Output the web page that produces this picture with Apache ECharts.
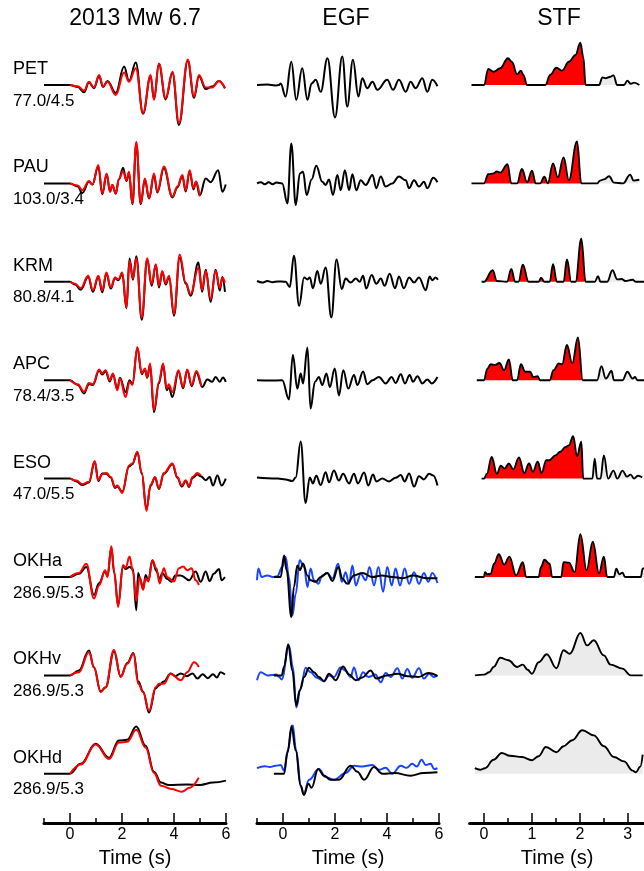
<!DOCTYPE html>
<html><head><meta charset="utf-8">
<script src="https://cdn.jsdelivr.net/npm/echarts@6/dist/echarts.min.js"></script>
<style>html,body{margin:0;padding:0;background:#fff}#c{width:644px;height:871px}</style>
</head><body><div id="c"></div><script>
// ---------- labels ----------
const stations = ['PET','PAU','KRM','APC','ESO','OKHa','OKHv','OKHd'];
const distAz = ['77.0/4.5','103.0/3.4','80.8/4.1','78.4/3.5','47.0/5.5','286.9/5.3','286.9/5.3','286.9/5.3'];
const colTitles = ['2013 Mw 6.7','EGF','STF'];
const ticks12 = [0,2,4,6], minor12 = [-1,1,3,5];
const ticks3 = [0,1,2,3], minor3 = [0.5,1.5,2.5];
const stfRedEnd = [2.12, 2.03, 2.12, 2.06, 2.07, 2.57, null, null];

// ---------- column 1: observed (black) and synthetic (red) ----------
const PET_obs = [[-1,0],[0,0],[0.3,-0.05],[0.54,-0.18],[0.73,0.06],[0.92,-0.08],[1.12,0.22],[1.27,-0.05],[1.44,0.1],[1.76,-0.2],[2.08,0.46],[2.27,0.1],[2.53,0.56],[2.81,-0.72],[3.1,0.22],[3.23,-0.35],[3.42,0.52],[3.68,-0.36],[3.94,0.3],[4.19,-1.0],[4.53,0.6],[4.77,-0.32],[4.96,0.22],[5.22,-0.1],[5.47,-0.04],[5.73,0.1],[5.96,-0.08]];
const PET_syn = [[0,0],[0.3,-0.03],[0.54,-0.14],[0.73,0.08],[0.92,-0.06],[1.12,0.25],[1.27,-0.03],[1.44,0.08],[1.76,-0.25],[2.08,0.31],[2.27,0.08],[2.53,0.42],[2.81,-0.7],[3.1,0.25],[3.23,-0.37],[3.42,0.54],[3.68,-0.33],[3.94,0.33],[4.19,-0.95],[4.53,0.64],[4.77,-0.29],[4.96,0.25],[5.22,-0.06],[5.47,-0.06],[5.73,0.1],[5.96,-0.08]];
const PAU_obs = [[-1,0],[0,0],[0.3,-0.08],[0.47,-0.24],[0.73,0.04],[0.86,-0.03],[1.09,0.42],[1.24,-0.27],[1.41,0.22],[1.54,-0.2],[1.63,-0.04],[1.76,-0.26],[1.88,0.1],[2.04,0.39],[2.17,0.06],[2.27,0.25],[2.4,-0.52],[2.55,0.98],[2.72,-0.52],[2.88,0.1],[3.04,-0.38],[3.23,0.2],[3.36,-0.23],[3.61,0.38],[3.94,-0.35],[4.13,-0.1],[4.32,0.18],[4.45,-0.2],[4.6,0.3],[4.75,-0.15],[4.85,0.04],[4.99,-0.3],[5.22,0.12],[5.41,0.03],[5.7,0.33],[5.86,-0.21],[5.99,-0.03]];
const PAU_syn = [[0,0],[0.3,-0.05],[0.47,-0.17],[0.73,0.06],[0.86,-0.03],[1.09,0.46],[1.24,-0.25],[1.41,0.25],[1.54,-0.21],[1.63,-0.04],[1.76,-0.25],[1.88,0.11],[2.04,0.3],[2.17,0.08],[2.27,0.29],[2.4,-0.5],[2.55,1.04],[2.72,-0.5],[2.88,0.12],[3.04,-0.37],[3.23,0.25],[3.36,-0.21],[3.61,0.42],[3.94,-0.33],[4.13,-0.08],[4.32,0.21],[4.45,-0.17],[4.6,0.33],[4.75,-0.12],[4.85,0.05],[4.99,-0.32]];
const KRM_obs = [[-1,0],[0,0],[0.2,-0.07],[0.41,-0.2],[0.7,0.12],[0.88,-0.25],[1.09,0.12],[1.24,-0.26],[1.4,0.2],[1.57,-0.17],[1.73,0.09],[1.86,0.04],[2.01,0.2],[2.17,-0.66],[2.29,0.58],[2.42,0.05],[2.55,0.64],[2.76,-0.95],[2.97,0.56],[3.14,-0.1],[3.3,0.42],[3.42,-0.14],[3.55,0.24],[3.68,-0.07],[3.81,0.12],[4.0,-0.85],[4.22,0.6],[4.45,-0.05],[4.64,-0.35],[4.94,0.48],[5.08,-0.25],[5.22,0.3],[5.41,-0.5],[5.6,0.3],[5.76,-0.22],[5.86,0.12],[5.96,-0.25]];
const KRM_syn = [[0,0],[0.2,-0.05],[0.41,-0.16],[0.7,0.15],[0.88,-0.21],[1.09,0.15],[1.24,-0.22],[1.4,0.23],[1.57,-0.14],[1.73,0.11],[1.86,0.06],[2.01,0.23],[2.17,-0.64],[2.29,0.52],[2.42,0.08],[2.55,0.59],[2.76,-0.89],[2.97,0.59],[3.14,-0.06],[3.3,0.44],[3.42,-0.1],[3.55,0.27],[3.68,-0.04],[3.81,0.15],[4.0,-0.81],[4.22,0.68],[4.45,-0.02],[4.64,-0.31],[4.94,0.35],[5.08,-0.2],[5.22,0.27],[5.41,-0.43],[5.6,0.27],[5.76,-0.15],[5.86,0.1],[5.96,-0.02]];
const APC_obs = [[-1,0],[0,0],[0.3,-0.12],[0.54,-0.33],[0.73,-0.1],[0.88,-0.12],[1.12,0.24],[1.24,0.14],[1.37,0.22],[1.53,-0.03],[1.65,0.14],[1.82,-0.22],[1.92,0.06],[2.14,-0.3],[2.29,0.0],[2.4,-0.1],[2.59,0.8],[2.76,0.15],[2.88,0.27],[2.97,0.06],[3.08,0.38],[3.23,-0.8],[3.42,-0.08],[3.58,0.38],[3.72,-0.25],[3.8,-0.18],[3.94,-0.42],[4.17,0.22],[4.35,-0.2],[4.51,0.25],[4.68,-0.15],[4.86,0.2],[5.09,-0.17],[5.28,0.02],[5.47,-0.04],[5.6,0.08],[5.76,-0.04],[5.88,0.07],[5.99,-0.04]];
const APC_syn = [[0,0],[0.3,-0.1],[0.54,-0.29],[0.73,-0.07],[0.88,-0.1],[1.12,0.27],[1.24,0.17],[1.37,0.25],[1.53,0],[1.65,0.17],[1.82,-0.25],[1.92,0.04],[2.14,-0.42],[2.29,-0.04],[2.4,-0.12],[2.59,0.83],[2.76,0.17],[2.88,0.29],[2.97,0.08],[3.08,0.42],[3.23,-0.75],[3.42,-0.04],[3.58,0.42],[3.72,-0.2],[3.8,-0.1],[3.94,-0.3],[4.17,0.25],[4.35,-0.17],[4.51,0.27],[4.68,-0.12],[4.86,0.23],[5.05,-0.15]];
const ESO_obs = [[-1,0],[0,0],[0.25,-0.07],[0.47,-0.16],[0.73,-0.1],[0.95,0.42],[1.09,-0.06],[1.24,0.13],[1.4,0.12],[1.57,0.02],[1.73,-0.23],[1.82,-0.2],[2.01,-0.33],[2.27,0.3],[2.4,0.36],[2.59,0.66],[2.76,0.12],[2.94,-0.75],[3.1,-0.18],[3.27,0.02],[3.42,-0.26],[3.61,0.12],[3.94,0.36],[4.13,0.02],[4.3,-0.2],[4.45,-0.06],[4.58,-0.21],[4.71,0.02],[4.9,0.1],[5.03,0.06],[5.22,-0.04],[5.37,0.04],[5.5,-0.17],[5.67,0.08],[5.83,-0.17],[5.99,0]];
const ESO_syn = [[0,0],[0.25,-0.05],[0.47,-0.14],[0.73,-0.08],[0.95,0.44],[1.09,-0.04],[1.24,0.11],[1.4,0.14],[1.57,0.04],[1.73,-0.21],[1.82,-0.17],[2.01,-0.36],[2.27,0.33],[2.4,0.38],[2.59,0.67],[2.76,0.15],[2.94,-0.81],[3.1,-0.15],[3.27,0.04],[3.42,-0.24],[3.61,0.14],[3.94,0.38],[4.13,0.04],[4.3,-0.17],[4.45,-0.04],[4.58,-0.19],[4.71,0.04],[4.9,0.14],[5.03,0.08]];
const OKHa_obs = [[-1,0],[0,0],[0.34,0.08],[0.63,0.25],[0.92,-0.45],[1.12,-0.15],[1.35,0.14],[1.44,0.02],[1.59,0.74],[1.7,0.1],[1.85,-0.7],[2.04,0.26],[2.14,0.2],[2.29,0.25],[2.42,0.2],[2.55,-0.83],[2.62,0.1],[2.7,-0.05],[2.81,-0.3],[2.91,0.05],[3.01,-0.1],[3.17,0.42],[3.32,0.15],[3.45,-0.05],[3.55,0.1],[3.74,-0.05],[3.9,-0.12],[4.05,0.04],[4.26,0.04],[4.58,-0.08],[4.83,0.14],[5.03,-0.12],[5.22,0.14],[5.37,-0.1],[5.53,0.08],[5.73,0.2],[5.83,-0.08],[5.96,0]];
const OKHa_syn = [[0,0],[0.34,0.1],[0.63,0.33],[0.92,-0.54],[1.12,-0.21],[1.35,0.17],[1.44,0],[1.59,0.77],[1.7,0.14],[1.85,-0.75],[2.04,0.3],[2.14,0.23],[2.29,0.51],[2.42,0.14],[2.55,-0.6],[2.68,0],[2.81,-0.32],[2.91,-0.03],[3.01,-0.11],[3.17,0.42],[3.32,0.22],[3.45,-0.16],[3.61,0.22],[3.74,0],[4.0,-0.11],[4.19,0.22],[4.35,0.26],[4.51,0.17],[4.68,0.22],[4.83,-0.08],[4.96,-0.2]];
const OKHv_obs = [[-1,0],[0,0],[0.34,0.12],[0.73,0.62],[0.92,0.2],[1.18,-0.4],[1.37,-0.3],[1.69,0.6],[1.95,-0.03],[2.2,0.31],[2.44,0.56],[2.63,-0.15],[2.81,-0.4],[3.04,-0.93],[3.3,-0.32],[3.42,-0.25],[3.61,-0.15],[3.87,0.05],[4.05,-0.02],[4.26,0.05],[4.5,-0.02],[4.71,0.05],[4.9,-0.08],[5.1,0.03],[5.3,-0.07],[5.5,0.03],[5.65,-0.05],[5.79,0.08],[5.96,0.02]];
const OKHv_syn = [[0,0],[0.34,0.08],[0.73,0.58],[0.92,0.21],[1.18,-0.42],[1.37,-0.29],[1.69,0.64],[1.95,-0.04],[2.2,0.29],[2.44,0.54],[2.63,-0.21],[2.81,-0.42],[3.04,-0.88],[3.3,-0.29],[3.42,-0.21],[3.61,-0.21],[3.87,0.04],[4.26,-0.12],[4.51,0.08],[4.77,0.33],[4.96,0.21]];
const OKHd_obs = [[-1,0],[0,0],[0.41,0.25],[0.99,0.75],[1.5,0.4],[1.88,0.83],[2.2,0.85],[2.55,1.18],[2.91,0.7],[3.23,0.05],[3.5,-0.22],[3.8,-0.28],[4.5,-0.27],[5.0,-0.28],[5.5,-0.22],[6,-0.17]];
const OKHd_syn = [[0,0],[0.41,0.23],[0.99,0.73],[1.5,0.37],[1.88,0.78],[2.2,0.8],[2.55,1.1],[2.91,0.65],[3.23,0.02],[3.5,-0.3],[3.9,-0.38],[4.3,-0.45],[4.6,-0.35],[4.95,-0.1]];

// ---------- column 2: EGF (black) and second EGF (blue) ----------
const PET_egf = [[-1,0],[-0.6,0.01],[-0.3,-0.01],[-0.15,0],[-0.09,0.04],[0.1,-0.29],[0.32,0.58],[0.51,-0.37],[0.74,0.42],[0.94,-0.37],[1.1,0.04],[1.26,0.13],[1.45,-0.17],[1.71,0.67],[2.0,-0.81],[2.28,0.71],[2.47,-0.54],[2.69,0.63],[2.9,-0.29],[3.05,0.17],[3.24,-0.08],[3.44,0.08],[3.63,-0.12],[4.01,0.13],[4.23,-0.12],[4.46,0.13],[4.72,-0.17],[4.91,0.08],[5.1,-0.08],[5.36,0.17],[5.55,-0.17],[5.74,0.13],[5.94,-0.03]];
const PAU_egf = [[-1,0],[-0.85,0.03],[-0.7,-0.02],[-0.55,0.03],[-0.4,-0.02],[-0.25,0.02],[-0.03,0],[0.17,-0.5],[0.32,1.0],[0.49,-0.54],[0.65,0.25],[0.77,0.29],[0.91,-0.29],[1.1,0.1],[1.28,0.44],[1.51,0.04],[1.64,-0.04],[1.77,0.1],[1.92,-0.29],[2.09,0.21],[2.22,-0.17],[2.38,0.33],[2.54,-0.17],[2.67,0.23],[2.82,-0.17],[2.99,0.08],[3.18,-0.04],[3.44,0.21],[3.59,-0.12],[3.76,0.17],[3.95,-0.08],[4.2,0.0],[4.46,0.17],[4.72,0.08],[4.85,-0.12],[5.04,0.08],[5.23,-0.08],[5.42,0.04],[5.55,-0.12],[5.78,0.14],[5.94,0.03]];
const KRM_egf = [[-1,0.02],[-0.8,-0.02],[-0.6,0.02],[-0.4,-0.01],[-0.2,0.01],[0.1,0],[0.26,-0.13],[0.42,0.65],[0.62,-0.6],[0.81,0.11],[0.94,0.06],[1.03,0.11],[1.15,-0.16],[1.32,0.27],[1.45,-0.05],[1.64,0.36],[1.86,-0.89],[2.06,0.56],[2.26,-0.18],[2.41,0.08],[2.6,-0.02],[2.8,0.08],[2.95,0.0],[3.08,0.15],[3.2,-0.17],[3.41,0.17],[3.59,-0.05],[3.76,0.08],[3.91,-0.1],[4.1,0.2],[4.31,-0.16],[4.46,0.13],[4.65,-0.16],[4.85,0.11],[5.04,-0.02],[5.23,0.11],[5.49,-0.21],[5.64,0.13],[5.74,0.04],[5.87,0.11],[5.96,0.05]];
const APC_egf = [[-1,0],[-0.5,-0.01],[-0.03,0],[0.23,-0.48],[0.38,0.63],[0.55,-0.21],[0.68,0.17],[0.77,-0.08],[0.94,0.82],[1.06,-0.71],[1.23,-0.04],[1.38,0.08],[1.51,-0.12],[1.67,0.17],[1.8,-0.17],[1.99,0.29],[2.15,-0.38],[2.32,0.25],[2.51,-0.21],[2.73,0.13],[2.86,-0.12],[3.08,0.22],[3.24,-0.1],[3.45,0.0],[3.69,0.08],[3.95,-0.08],[4.18,0.08],[4.33,-0.07],[4.53,0.15],[4.69,-0.08],[4.87,0.13],[5.0,-0.04],[5.17,0.1],[5.36,-0.08],[5.55,0.02],[5.72,-0.08],[5.94,0.08]];
const ESO_egf = [[-1,0.03],[-0.6,0.01],[-0.2,0],[0.1,-0.02],[0.36,-0.06],[0.49,0.03],[0.68,0.93],[0.87,-0.61],[1.03,0.03],[1.15,-0.12],[1.28,0.07],[1.45,-0.16],[1.64,0.16],[1.77,-0.09],[1.96,0.2],[2.15,-0.05],[2.31,0.12],[2.54,-0.12],[2.73,0.12],[2.88,-0.12],[3.12,0.15],[3.28,-0.17],[3.46,0.1],[3.59,-0.07],[3.82,0.0],[4.08,-0.07],[4.33,0.02],[4.53,0.09],[4.68,-0.07],[4.85,0.13],[5.04,-0.2],[5.23,0.06],[5.42,-0.02],[5.62,0.12],[5.78,0.08],[5.94,-0.17]];
const OKHa_egf = [[-0.35,0],[-0.09,0],[0.04,0.54],[0.14,0.17],[0.32,-1.0],[0.42,-0.25],[0.55,0.29],[0.65,0.17],[0.77,0.34],[0.94,0.04],[1.06,-0.08],[1.26,-0.12],[1.45,0],[1.7,0.1],[1.9,-0.1],[2.13,0.25],[2.28,-0.04],[2.47,-0.17],[2.73,0.04],[3.05,0.1],[3.44,0],[3.8,0.04],[4.2,0.0],[4.6,-0.03],[5.0,0.04],[5.5,-0.03],[5.94,-0.03]];
const OKHa_egf2 = [[-1,-0.08],[-0.95,0.21],[-0.82,0],[-0.6,0.04],[-0.4,0],[-0.22,0.02],[-0.03,0.25],[0.1,0.5],[0.23,0],[0.36,-0.96],[0.49,-0.42],[0.64,0.42],[0.81,0.25],[0.94,-0.25],[1.06,0.21],[1.19,-0.08],[1.36,-0.17],[1.51,0.04],[1.7,0.1],[1.9,-0.04],[2.12,0.33],[2.26,-0.12],[2.41,0.12],[2.54,-0.17],[2.67,0.29],[2.8,-0.21],[2.99,0.08],[3.18,-0.08],[3.33,0.25],[3.5,-0.21],[3.67,0.25],[3.85,-0.37],[4.01,0.25],[4.18,-0.21],[4.33,0.21],[4.5,-0.21],[4.68,0.21],[4.85,-0.17],[5.04,0.12],[5.23,-0.17],[5.42,0.1],[5.59,-0.12],[5.74,0.1],[5.94,-0.15]];
const OKHv_egf = [[-0.35,0],[-0.05,0],[0.04,0.21],[0.2,0.78],[0.36,0.12],[0.51,-0.75],[0.64,-0.38],[0.81,-0.04],[1.0,0.19],[1.19,0.08],[1.38,-0.04],[1.58,-0.14],[1.77,0.04],[2.03,-0.12],[2.31,0.22],[2.54,0.02],[2.8,-0.12],[3.05,-0.05],[3.37,0.12],[3.59,-0.08],[4.0,0.0],[4.4,0.04],[4.8,-0.02],[5.2,-0.04],[5.6,0.06],[5.94,-0.01]];
const OKHv_egf2 = [[-1,-0.12],[-0.86,0.08],[-0.6,0.0],[-0.4,0.01],[-0.25,0.02],[-0.15,-0.04],[-0.05,-0.1],[0.23,0.75],[0.38,0.21],[0.51,-0.8],[0.68,-0.33],[0.87,0.19],[1.06,0.08],[1.3,-0.06],[1.58,-0.15],[1.77,0.0],[1.96,-0.04],[2.22,0.2],[2.41,0.12],[2.6,-0.04],[2.73,0.2],[2.9,-0.12],[3.08,0.08],[3.28,-0.04],[3.55,0.02],[3.76,-0.17],[3.95,0.06],[4.14,-0.04],[4.4,0.18],[4.59,-0.08],[4.78,0.16],[4.97,-0.06],[5.23,0.18],[5.42,-0.08],[5.62,0.04],[5.8,-0.04],[5.94,0.0]];
const OKHd_egf = [[-0.35,0],[0.04,0],[0.17,0.52],[0.33,1.18],[0.49,0.58],[0.68,-0.3],[0.8,-0.53],[0.98,-0.25],[1.1,-0.35],[1.35,0.12],[1.58,-0.05],[1.83,-0.15],[2.15,-0.15],[2.6,0.2],[2.86,0.05],[3.12,-0.15],[3.5,0.17],[3.82,0.0],[4.3,0.02],[4.9,-0.05],[5.4,0.02],[5.94,0.04]];
const OKHd_egf2 = [[-1,0.14],[-0.7,0.19],[-0.5,0.17],[-0.28,0.2],[-0.09,0.22],[0.04,0.08],[0.19,0.6],[0.36,1.25],[0.51,0.58],[0.68,-0.3],[0.8,-0.5],[1.0,-0.15],[1.38,0.12],[1.64,-0.08],[1.96,-0.15],[2.41,0.02],[2.73,0.2],[3.05,0.18],[3.44,0.22],[3.69,0.1],[3.95,0.15],[4.2,0.0],[4.53,0.2],[4.75,0.15],[4.97,0.25],[5.15,0.18],[5.33,0.35],[5.49,0.22],[5.68,0.25],[5.81,0.12],[5.94,0.14]];

// ---------- column 3: source time functions ----------
const PET_stf = [[-0.26,0],[0,0],[0.09,0.4],[0.2,0.33],[0.34,0.42],[0.5,0.67],[0.58,0.58],[0.69,0.27],[0.77,0.36],[0.82,0.25],[0.9,0],[1.28,0],[1.38,0.25],[1.51,0.43],[1.63,0.36],[1.77,0.58],[1.91,0.75],[2.01,1.06],[2.07,0.71],[2.12,0],[2.4,0],[2.47,0.19],[2.54,0.17],[2.62,0.2],[2.7,0.24],[2.78,0],[2.92,0],[2.99,0.11],[3.06,0.03],[3.13,0.06],[3.24,0]];
const PAU_stf = [[-0.26,0],[0,0],[0.09,0.23],[0.2,0.25],[0.27,0.3],[0.34,0.27],[0.49,0.48],[0.57,0],[0.69,0],[0.79,0.36],[0.9,0.03],[1.0,0.32],[1.08,0],[1.17,0],[1.26,0.17],[1.33,0],[1.44,0.5],[1.54,0.15],[1.66,0.65],[1.77,0.08],[1.94,1.05],[2.03,0],[2.36,0],[2.42,0.07],[2.5,0.1],[2.61,0.18],[2.71,0.02],[2.9,0],[3.05,0.22],[3.12,0.07],[3.24,0.09]];
const KRM_stf = [[-0.05,0],[0,0],[0.18,0.29],[0.27,0.02],[0.48,0],[0.57,0.32],[0.65,0],[0.72,0],[0.81,0.43],[0.93,0],[1.14,0],[1.19,0.1],[1.26,0],[1.37,0],[1.44,0.44],[1.52,0],[1.66,0],[1.73,0.56],[1.82,0],[1.91,0],[2.03,1.08],[2.12,0],[2.31,0],[2.38,0.14],[2.43,0],[2.57,0],[2.68,0.29],[2.78,0.06],[2.87,0.07],[2.95,0.02],[3.1,0.05],[3.17,0],[3.34,0]];
const APC_stf = [[-0.15,0],[0,0],[0.07,0.29],[0.14,0.4],[0.23,0.38],[0.32,0.43],[0.42,0.25],[0.52,0.52],[0.6,0],[0.69,0],[0.77,0.4],[0.86,0.21],[0.96,0.21],[1.03,0.08],[1.12,0.1],[1.17,0],[1.37,0],[1.45,0.25],[1.56,0.42],[1.63,0.4],[1.73,0.88],[1.84,0.42],[1.96,1.07],[2.06,0],[2.36,0],[2.45,0.35],[2.54,0.04],[2.66,0.23],[2.71,0],[2.89,0],[2.99,0.21],[3.1,0.04],[3.15,0.08],[3.2,0],[3.34,0]];
const ESO_stf = [[-0.05,0],[0,0],[0.06,0.12],[0.16,0.54],[0.27,0.12],[0.35,0.32],[0.43,0.25],[0.52,0.38],[0.61,0.23],[0.73,0.53],[0.84,0.14],[0.94,0.38],[1.02,0.17],[1.12,0.42],[1.2,0.14],[1.3,0.46],[1.36,0.46],[1.49,0.58],[1.59,0.67],[1.7,0.79],[1.77,0.83],[1.86,1.06],[1.94,0.56],[2.03,0.92],[2.07,0],[2.26,0],[2.31,0.5],[2.36,0],[2.43,0],[2.5,0.58],[2.59,0],[2.7,0.2],[2.78,0],[2.89,0.2],[2.98,0.05],[3.06,0.1],[3.13,0],[3.21,0.07],[3.3,0.03]];
const OKHa_stf = [[-0.19,0],[0,0],[0.02,0.12],[0.07,0.07],[0.14,0.08],[0.21,0.33],[0.31,0.57],[0.42,0.31],[0.53,0.51],[0.67,0.04],[0.81,0.37],[0.88,0],[1.14,0],[1.19,0.25],[1.26,0.43],[1.37,0.33],[1.42,0],[1.61,0],[1.66,0.37],[1.77,0.36],[1.89,0.12],[2.01,1.07],[2.14,0.17],[2.27,0.88],[2.4,0.09],[2.5,0.51],[2.57,0],[2.71,0],[2.76,0.21],[2.82,0.07],[2.89,0.11],[2.94,0],[3.27,0],[3.31,0.21],[3.4,0.3]];
const OKHv_stf = [[-0.19,0],[0,0.02],[0.11,0.08],[0.2,0.21],[0.34,0.44],[0.51,0.38],[0.69,0.21],[0.81,0.27],[0.91,0.14],[1.0,0.04],[1.14,0.33],[1.31,0.53],[1.51,0.18],[1.66,0.63],[1.79,0.54],[2.01,1.06],[2.15,0.75],[2.29,0.88],[2.5,0.5],[2.64,0.27],[2.89,0.17],[3.06,0],[3.31,0]];
const OKHd_stf = [[-0.19,0.14],[-0.08,0.1],[0.02,0.14],[0.2,0.35],[0.37,0.52],[0.54,0.45],[0.79,0.42],[1.0,0.34],[1.14,0.44],[1.29,0.67],[1.51,0.54],[1.66,0.69],[1.84,0.84],[2.05,1.09],[2.29,0.96],[2.5,0.69],[2.71,0.42],[2.92,0.31],[3.1,0.08],[3.17,0.04],[3.26,0.18],[3.31,0.48]];

const obsData = [PET_obs,PAU_obs,KRM_obs,APC_obs,ESO_obs,OKHa_obs,OKHv_obs,OKHd_obs];
const synData = [PET_syn,PAU_syn,KRM_syn,APC_syn,ESO_syn,OKHa_syn,OKHv_syn,OKHd_syn];
const egfData = [PET_egf,PAU_egf,KRM_egf,APC_egf,ESO_egf,OKHa_egf,OKHv_egf,OKHd_egf];
const egf2Data = [null,null,null,null,null,OKHa_egf2,OKHv_egf2,OKHd_egf2];
const stfData = [PET_stf,PAU_stf,KRM_stf,APC_stf,ESO_stf,OKHa_stf,OKHv_stf,OKHd_stf];

// ---------- layout ----------
const FONT = '"Liberation Sans", Arial, sans-serif';
const colLeft = [44, 257, 469.6], colWidth = [182, 182, 175];
const colMin = [-1, -1, -0.3], colMax = [6, 6, 3.35];
const base0 = 85, rowStep = 98.4, halfH = 48;
const RED = '#ff0000', BLUE = '#1a44ff', GRAY = '#ebebeb';

const grid = [], xAxis = [], yAxis = [], series = [], visualMap = [], graphic = [];
function addPanel(c, top, height) {
  grid.push({left: colLeft[c], width: colWidth[c], top, height, outerBoundsMode: 'none'});
  const gi = grid.length - 1;
  xAxis.push({gridIndex: gi, type: 'value', min: colMin[c], max: colMax[c], show: false});
  yAxis.push({gridIndex: gi, type: 'value', min: -1.2, max: 1.2, show: false});
  return gi;
}
function addLine(gi, data, color, width, extra) {
  series.push(Object.assign({
    type: 'line', xAxisIndex: gi, yAxisIndex: gi, data,
    symbol: 'none', showSymbol: false, smooth: 0.4, smoothMonotone: 'x',
    lineStyle: {color, width, join: 'round'}, itemStyle: {color},
    silent: true, animation: false
  }, extra || {}));
  return series.length - 1;
}

for (let r = 0; r < 8; r++) {
  const base = base0 + rowStep * r;
  const top = base - halfH;
  // column 1
  const g1 = addPanel(0, top, halfH * 2);
  addLine(g1, obsData[r], '#000', 2);
  addLine(g1, synData[r], RED, 2);
  // column 2
  const g2 = addPanel(1, top, halfH * 2);
  if (egf2Data[r]) addLine(g2, egf2Data[r], BLUE, 2);
  addLine(g2, egfData[r], '#000', 2);
  // column 3
  const g3 = addPanel(2, top, halfH * 2);
  if (stfRedEnd[r] != null) {
    const si = addLine(g3, stfData[r], GRAY, 0, {areaStyle: {opacity: 1}, lineStyle: {width: 0}});
    visualMap.push({type: 'piecewise', show: false, dimension: 0, seriesIndex: si,
      pieces: [{min: -1, max: stfRedEnd[r], color: RED}], outOfRange: {color: GRAY}});
  } else {
    addLine(g3, stfData[r], GRAY, 0, {areaStyle: {color: GRAY, opacity: 1}, lineStyle: {width: 0}});
  }
  addLine(g3, stfData[r], '#000', 1.9);

  graphic.push({type: 'text', x: 13, y: base - 16, silent: true,
    style: {text: stations[r], fontSize: 18, fontFamily: FONT, fill: '#000', verticalAlign: 'middle'}});
  graphic.push({type: 'text', x: 13, y: base + 16, silent: true,
    style: {text: distAz[r], fontSize: 17, fontFamily: FONT, fill: '#000', verticalAlign: 'middle'}});
}

// bottom time axes
const axisTop = 780, axisH = 43;
for (let c = 0; c < 3; c++) {
  const major = c < 2 ? ticks12 : ticks3;
  const minor = c < 2 ? minor12 : minor3;
  grid.push({left: colLeft[c], width: colWidth[c], top: axisTop, height: axisH, outerBoundsMode: 'none'});
  let gi = grid.length - 1;
  xAxis.push({gridIndex: gi, type: 'value', min: colMin[c], max: colMax[c], position: 'bottom',
    splitLine: {show: false},
    axisLine: {show: true, onZero: false, lineStyle: {color: '#000', width: 3}},
    axisTick: {show: true, inside: true, length: 10, customValues: major, lineStyle: {color: '#000', width: 1.5}},
    axisLabel: {show: true, customValues: major, margin: 4, color: '#000', fontSize: 16, fontFamily: FONT},
    name: 'Time (s)', nameLocation: 'middle', nameGap: 25, nameMoveOverlap: false,
    nameTextStyle: {color: '#000', fontSize: 20, fontFamily: FONT, verticalAlign: 'top'}});
  yAxis.push({gridIndex: gi, type: 'value', min: 0, max: 1, show: false});
  grid.push({left: colLeft[c], width: colWidth[c], top: axisTop, height: axisH, outerBoundsMode: 'none'});
  gi = grid.length - 1;
  xAxis.push({gridIndex: gi, type: 'value', min: colMin[c], max: colMax[c], position: 'bottom',
    splitLine: {show: false},
    axisLine: {show: false},
    axisTick: {show: true, inside: true, length: 5, customValues: minor, lineStyle: {color: '#000', width: 1.5}},
    axisLabel: {show: false}});
  yAxis.push({gridIndex: gi, type: 'value', min: 0, max: 1, show: false});
}

const titleX = [135, 346, 559];
for (let c = 0; c < 3; c++) {
  graphic.push({type: 'text', x: titleX[c], y: 19, silent: true,
    style: {text: colTitles[c], fontSize: 23, fontFamily: FONT, fill: '#000', align: 'center', verticalAlign: 'middle'}});
}

const chart = echarts.init(document.getElementById('c'), null, {renderer: 'canvas'});
chart.setOption({animation: false, backgroundColor: '#fff', grid, xAxis, yAxis, series, visualMap, graphic});
</script></body></html>
